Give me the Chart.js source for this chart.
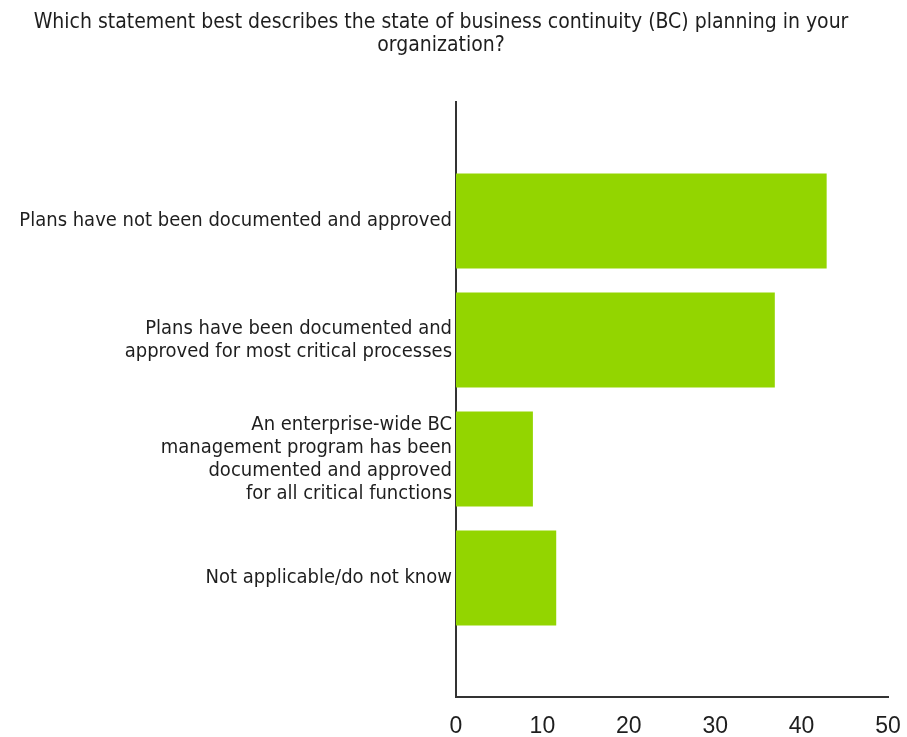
<!DOCTYPE html>
<html>
<head>
<meta charset="utf-8">
<script src="https://cdn.jsdelivr.net/npm/chart.js@4.4.1/dist/chart.umd.min.js"></script>
<style>
  html, body { margin: 0; padding: 0; background: #fff; }
  #wrap { width: 907px; height: 737px; }
</style>
</head>
<body>
<div id="wrap"><canvas id="bcChart"></canvas></div>
<script>
// survey question and answers
const titleLines = [
    "Which statement best describes the state of business continuity (BC) planning in your",
    "organization?"
];
const answers = [
    ["Plans have not been documented and approved"],
    ["Plans have been documented and", "approved for most critical processes"],
    ["An enterprise-wide BC", "management program has been", "documented and approved", "for all critical functions"],
    ["Not applicable/do not know"]
];
const shares = [42.9, 36.9, 8.9, 11.6];
const xTicks = [0, 10, 20, 30, 40, 50];

// one blank slot above and below the bars
const labels = [""].concat(answers, [""]);
const values = [null].concat(shares, [null]);

const textFont = "'DejaVu Sans Condensed', 'DejaVu Sans', sans-serif";

// draws the two-line question above the plot
const questionTitle = {
    id: "questionTitle",
    afterDraw(chart) {
        const ctx = chart.ctx;
        ctx.save();
        ctx.fillStyle = "#1e1e1e";
        ctx.font = "21px " + textFont;
        ctx.textAlign = "center";
        ctx.textBaseline = "middle";
        titleLines.forEach((line, i) => ctx.fillText(line, 441, 23 + i * 23));
        ctx.restore();
    }
};

new Chart(document.getElementById("bcChart"), {
    type: 'bar',
    data: {
        labels: labels,
        datasets: [{
            data: values,
            backgroundColor: "#93d500",
            borderWidth: 0,
            categoryPercentage: 0.8,
            barPercentage: 1
        }]
    },
    options: {
        indexAxis: 'y',
        responsive: true,
        maintainAspectRatio: false,
        animation: false,
        layout: { padding: { top: 102, right: 19, bottom: 0, left: 0 } },
        plugins: {
            legend: { display: false },
            tooltip: { enabled: false },
            title: { display: false }
        },
        scales: {
            x: {
                min: 0,
                max: 50,
                afterBuildTicks: (scale) => { scale.ticks = xTicks.map(v => ({ value: v })); },
                afterFit: (scale) => {
                    scale.height = 40;
                    scale.paddingRight = 13;
                },
                grid: { display: false, drawTicks: false },
                border: { display: true, color: "#333", width: 2 },
                ticks: {
                    padding: 16,
                    color: "#1e1e1e",
                    font: { family: "'Liberation Sans', Arial, sans-serif", size: 23 }
                }
            },
            y: {
                offset: false,
                afterFit: (scale) => { scale.width = 456; },
                grid: { display: false, drawTicks: false },
                border: { display: true, color: "#333", width: 2 },
                ticks: {
                    padding: 4,
                    color: "#1e1e1e",
                    autoSkip: false,
                    font: { family: textFont, size: 20, lineHeight: 1.15 }
                }
            }
        }
    },
    plugins: [questionTitle]
});
</script>
</body>
</html>
